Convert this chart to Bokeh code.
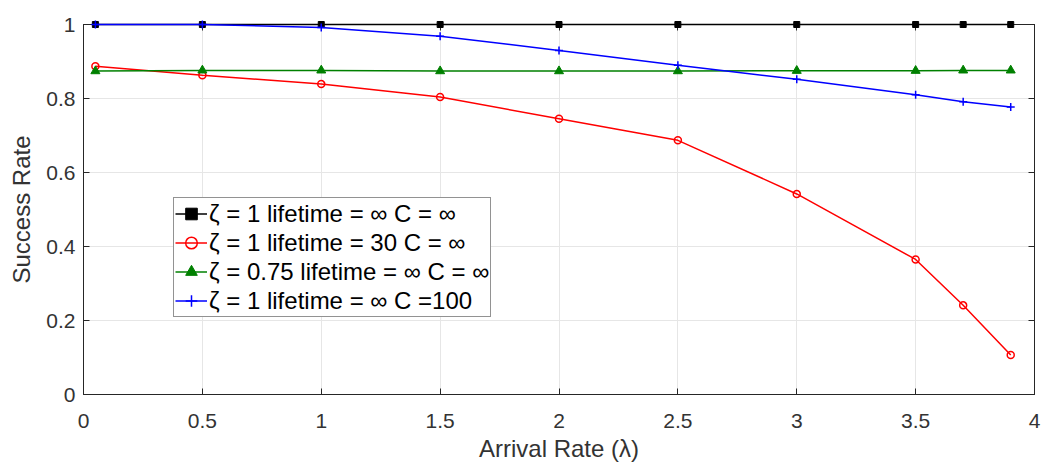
from bokeh.plotting import figure
from bokeh.models import FixedTicker, LinearAxis, Range1d, Legend, LegendItem, CustomLabelingPolicy
from bokeh.embed import file_html
from bokeh.resources import INLINE

x = [0.05, 0.5, 1, 1.5, 2, 2.5, 3, 3.5, 3.7, 3.9]
black = [1, 1, 1, 1, 1, 1, 1, 1, 1, 1]
red = [0.887, 0.863, 0.839, 0.804, 0.745, 0.687, 0.542, 0.365, 0.241, 0.107]
green = [0.874, 0.876, 0.876, 0.874, 0.874, 0.874, 0.875, 0.875, 0.876, 0.876]
blue = [1.0, 1.0, 0.992, 0.968, 0.930, 0.890, 0.852, 0.810, 0.791, 0.777]
labels = ["ζ = 1 lifetime = ∞ C = ∞", "ζ = 1 lifetime = 30 C = ∞",
          "ζ = 0.75 lifetime = ∞ C = ∞", "ζ = 1 lifetime = ∞ C =100"]
xticks = [0, 0.5, 1, 1.5, 2, 2.5, 3, 3.5, 4]
xtick_labels = ["0", "0.5", "1", "1.5", "2", "2.5", "3", "3.5", "4"]
yticks = [0, 0.2, 0.4, 0.6, 0.8, 1]
ytick_labels = ["0", "0.2", "0.4", "0.6", "0.8", "1"]

FONT = "Liberation Sans"
AX = "#262626"

p = figure(width=1057, height=464, output_backend="svg", toolbar_location=None,
           x_range=Range1d(0, 4), y_range=Range1d(0, 1),
           min_border_left=83, min_border_right=23, min_border_top=24, min_border_bottom=67)
p.outline_line_color = AX
p.outline_line_width = 1

for ax in [p.xaxis[0], p.yaxis[0]]:
    ax.axis_line_color = AX
    ax.major_tick_line_color = AX
    ax.major_tick_in = 6
    ax.major_tick_out = 0
    ax.minor_tick_line_color = None
    ax.major_label_text_font = FONT
    ax.major_label_text_font_size = "21px"
    ax.major_label_text_color = "#333333"
    ax.axis_label_text_font = FONT
    ax.axis_label_text_font_size = "24px"
    ax.axis_label_text_color = "#333333"
    ax.axis_label_text_font_style = "normal"

p.xaxis.ticker = FixedTicker(ticks=xticks)
p.xaxis.major_label_overrides = dict(zip(xticks, xtick_labels))
p.yaxis.ticker = FixedTicker(ticks=yticks)
p.yaxis.major_label_overrides = dict(zip(yticks, ytick_labels))
p.xaxis.axis_label = "Arrival Rate (λ)"
p.yaxis.axis_label = "Success Rate"
p.xaxis.major_label_standoff = 19
p.yaxis.major_label_standoff = 8
p.xaxis.axis_label_standoff = 4
p.yaxis.axis_label_standoff = 8

hide = "return []"
top = LinearAxis(ticker=FixedTicker(ticks=xticks), major_label_text_font_size="11px",
                 major_label_policy=CustomLabelingPolicy(code=hide),
                 major_tick_in=6, major_tick_out=0, minor_tick_line_color=None,
                 axis_line_color=AX, major_tick_line_color=AX, major_label_standoff=0)
right = LinearAxis(ticker=FixedTicker(ticks=yticks), major_label_text_font_size="11px",
                   major_label_policy=CustomLabelingPolicy(code=hide),
                   major_tick_in=6, major_tick_out=0, minor_tick_line_color=None,
                   axis_line_color=AX, major_tick_line_color=AX, major_label_standoff=0)
p.add_layout(top, "above")
p.add_layout(right, "right")

p.xgrid.ticker = FixedTicker(ticks=xticks)
p.ygrid.ticker = FixedTicker(ticks=yticks)
p.grid.grid_line_color = "#e6e6e6"
p.grid.grid_line_width = 1

LW = 1.5
l1 = p.line(x, black, line_color="black", line_width=LW, level="overlay")
m1 = p.scatter(x, black, marker="square", size=6, line_color="black", fill_color="black",
               line_width=1, level="overlay")
l2 = p.line(x, red, line_color="#ff0000", line_width=LW)
m2 = p.scatter(x, red, marker="circle", size=7, line_color="#ff0000", fill_color=None, line_width=1.5)
l3 = p.line(x, green, line_color="#008000", line_width=LW)
m3 = p.scatter(x, green, marker="triangle", size=9, line_color="#008000", fill_color="#008000", line_width=1)
l4 = p.line(x, blue, line_color="#0000ff", line_width=LW, level="overlay")
m4 = p.scatter(x, blue, marker="cross", size=8, line_color="#0000ff", line_width=1.5, level="overlay")

legend = Legend(items=[LegendItem(label=labels[0], renderers=[l1, m1]),
                       LegendItem(label=labels[1], renderers=[l2, m2]),
                       LegendItem(label=labels[2], renderers=[l3, m3]),
                       LegendItem(label=labels[3], renderers=[l4, m4])],
                location=(90, 77))
legend.label_text_font = FONT
legend.label_text_font_size = "24px"
legend.label_text_color = "black"
legend.border_line_color = AX
legend.border_line_width = 1
legend.padding = 1
legend.spacing = 0
legend.margin = 0
legend.glyph_width = 32
legend.glyph_height = 29
legend.label_height = 29
legend.label_standoff = 2
legend.background_fill_alpha = 1
p.add_layout(legend, "center")

open("out.html", "w").write(file_html(p, INLINE))
